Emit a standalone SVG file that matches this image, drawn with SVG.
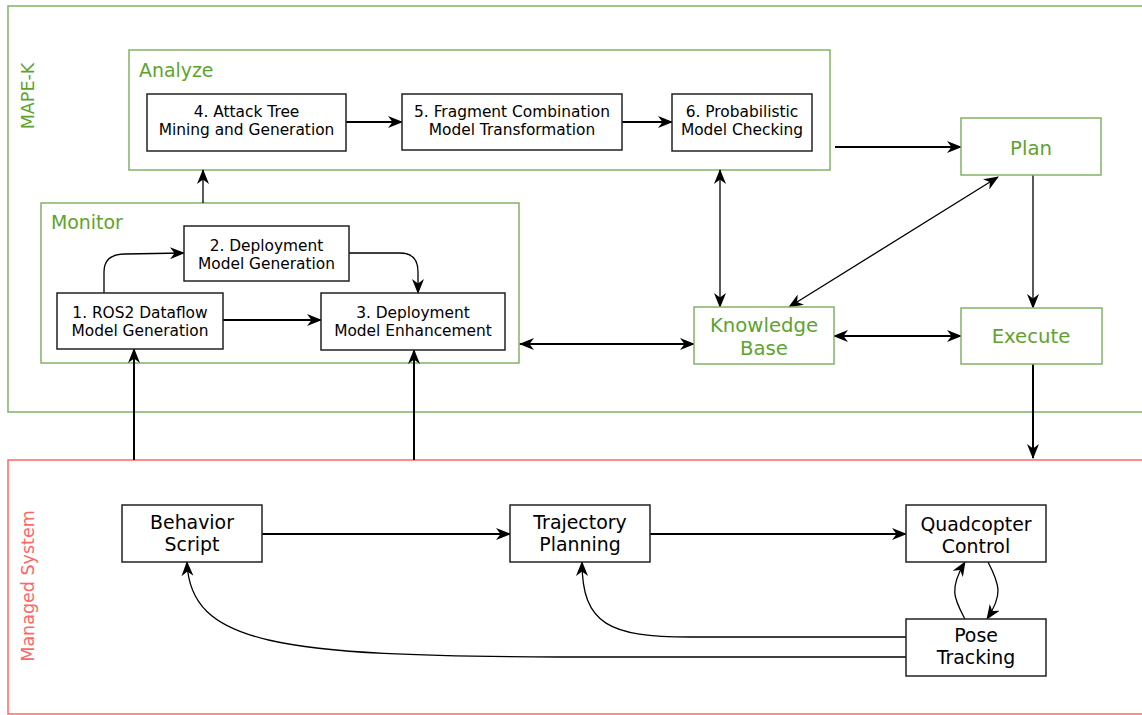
<svg xmlns="http://www.w3.org/2000/svg" width="1142" height="715" viewBox="0 0 1142 715">
<style>
.g{fill:none;stroke:#82b366;stroke-width:1.5}
.r{fill:none;stroke:#ff6666;stroke-width:1.5}
.b{fill:#fff;stroke:#222;stroke-width:1.5}
.gb{fill:#fff;stroke:#82b366;stroke-width:1.5}
.t{font-family:"DejaVu Sans",sans-serif;font-size:15.4px;fill:#000;text-anchor:middle}
.tl{font-family:"DejaVu Sans",sans-serif;font-size:18.9px;fill:#000;text-anchor:middle}
.gt{font-family:"DejaVu Sans",sans-serif;font-size:18.9px;fill:#5ea32e}
.gtc{font-family:"DejaVu Sans",sans-serif;font-size:19.7px;fill:#5ea32e;text-anchor:middle}
.vt{font-family:"DejaVu Sans",sans-serif;font-size:17.5px;text-anchor:middle}
.c{fill:none;stroke:#000;stroke-width:2}
.c1{fill:none;stroke:#000;stroke-width:1.3}
</style>
<defs>
<marker id="a" viewBox="0 0 15 12" refX="14" refY="6" markerWidth="15" markerHeight="12" markerUnits="userSpaceOnUse" orient="auto-start-reverse">
<path d="M0,0 L15,6 L0,12 L4.5,6 Z" fill="#000"/>
</marker>
</defs>
<rect x="0" y="0" width="1142" height="715" fill="#fff"/>
<g id="mapek">
<rect class="g" x="8" y="6" width="1140" height="406"/>
<text class="vt" fill="#5ea32e" transform="translate(34,96) rotate(-90)">MAPE-K</text>
</g>
<g id="managed">
<rect class="r" x="8" y="460" width="1140" height="254"/>
<text class="vt" fill="#ff6666" transform="translate(34,586) rotate(-90)">Managed System</text>
</g>
<g id="analyze">
<rect class="g" x="129" y="50" width="701" height="120"/>
<text class="gt" x="139" y="77">Analyze</text>
</g>
<g id="monitor">
<rect class="g" x="41" y="203" width="478" height="160"/>
<text class="gt" x="51" y="229">Monitor</text>
</g>
<g id="connectors">
<path class="c" d="M346,122 H402" marker-end="url(#a)"/>
<path class="c" d="M622,122 H672" marker-end="url(#a)"/>
<path class="c1" d="M203,203 V170" marker-end="url(#a)"/>
<path class="c1" d="M104,293 V272 Q104,254 125,254 L184,253" marker-end="url(#a)"/>
<path class="c1" d="M349,253 H400 Q418,253 418,272 V293" marker-end="url(#a)"/>
<path class="c" d="M223,320 H321" marker-end="url(#a)"/>
<path class="c" d="M835,147 H961" marker-end="url(#a)"/>
<path class="c1" d="M720,170 V307" marker-start="url(#a)" marker-end="url(#a)"/>
<path class="c1" d="M998,177 L789,307" marker-start="url(#a)" marker-end="url(#a)"/>
<path class="c1" d="M1033,175 V308" marker-end="url(#a)"/>
<path class="c" d="M834,336 H961" marker-start="url(#a)" marker-end="url(#a)"/>
<path class="c" d="M520,344 H694" marker-start="url(#a)" marker-end="url(#a)"/>
<path class="c" d="M1033,364 V458" marker-end="url(#a)"/>
<path class="c" d="M134,460 V349" marker-end="url(#a)"/>
<path class="c" d="M414,460 V350" marker-end="url(#a)"/>
<path class="c" d="M262,534 H510" marker-end="url(#a)"/>
<path class="c" d="M650,534 H906" marker-end="url(#a)"/>
<path class="c1" d="M906,637 H690 C610,637 582,625 582,562" marker-end="url(#a)"/>
<path class="c1" d="M906,657 H560 C280,656 190,645 187,562" marker-end="url(#a)"/>
<path class="c1" d="M965,619 C955,600 948,590 965,562" marker-end="url(#a)"/>
<path class="c1" d="M988,562 C1000,585 1003,595 987,619" marker-end="url(#a)"/>
</g>
<g id="n4">
<rect class="b" x="147" y="94" width="199" height="57"/>
<text class="t"><tspan x="246.5" y="117">4. Attack Tree</tspan><tspan x="246.5" y="135">Mining and Generation</tspan></text>
</g>
<g id="n5">
<rect class="b" x="402" y="94" width="220" height="56"/>
<text class="t"><tspan x="512" y="117">5. Fragment Combination</tspan><tspan x="512" y="135">Model Transformation</tspan></text>
</g>
<g id="n6">
<rect class="b" x="672" y="94" width="140" height="57"/>
<text class="t"><tspan x="742" y="117">6. Probabilistic</tspan><tspan x="742" y="135">Model Checking</tspan></text>
</g>
<g id="n2">
<rect class="b" x="184" y="226" width="165" height="55"/>
<text class="t"><tspan x="266.5" y="251">2. Deployment</tspan><tspan x="266.5" y="269">Model Generation</tspan></text>
</g>
<g id="n1">
<rect class="b" x="57" y="293" width="166" height="56"/>
<text class="t"><tspan x="140" y="318">1. ROS2 Dataflow</tspan><tspan x="140" y="336">Model Generation</tspan></text>
</g>
<g id="n3">
<rect class="b" x="321" y="293" width="184" height="57"/>
<text class="t"><tspan x="413" y="318">3. Deployment</tspan><tspan x="413" y="336">Model Enhancement</tspan></text>
</g>
<g id="plan">
<rect class="gb" x="961" y="118" width="140" height="57"/>
<text class="gtc" x="1031" y="155">Plan</text>
</g>
<g id="kb">
<rect class="gb" x="694" y="307" width="140" height="57"/>
<text class="gtc"><tspan x="764" y="332">Knowledge</tspan><tspan x="764" y="355">Base</tspan></text>
</g>
<g id="execute">
<rect class="gb" x="961" y="308" width="141" height="56"/>
<text class="gtc" x="1031" y="343">Execute</text>
</g>
<g id="bs">
<rect class="b" x="122" y="505" width="140" height="57"/>
<text class="tl"><tspan x="192" y="529">Behavior</tspan><tspan x="192" y="551">Script</tspan></text>
</g>
<g id="tp">
<rect class="b" x="510" y="505" width="140" height="57"/>
<text class="tl"><tspan x="580" y="529">Trajectory</tspan><tspan x="580" y="551">Planning</tspan></text>
</g>
<g id="qc">
<rect class="b" x="906" y="505" width="140" height="57"/>
<text class="tl"><tspan x="976" y="531">Quadcopter</tspan><tspan x="976" y="553">Control</tspan></text>
</g>
<g id="pt">
<rect class="b" x="906" y="619" width="140" height="57"/>
<text class="tl"><tspan x="976" y="642">Pose</tspan><tspan x="976" y="664">Tracking</tspan></text>
</g>
</svg>
